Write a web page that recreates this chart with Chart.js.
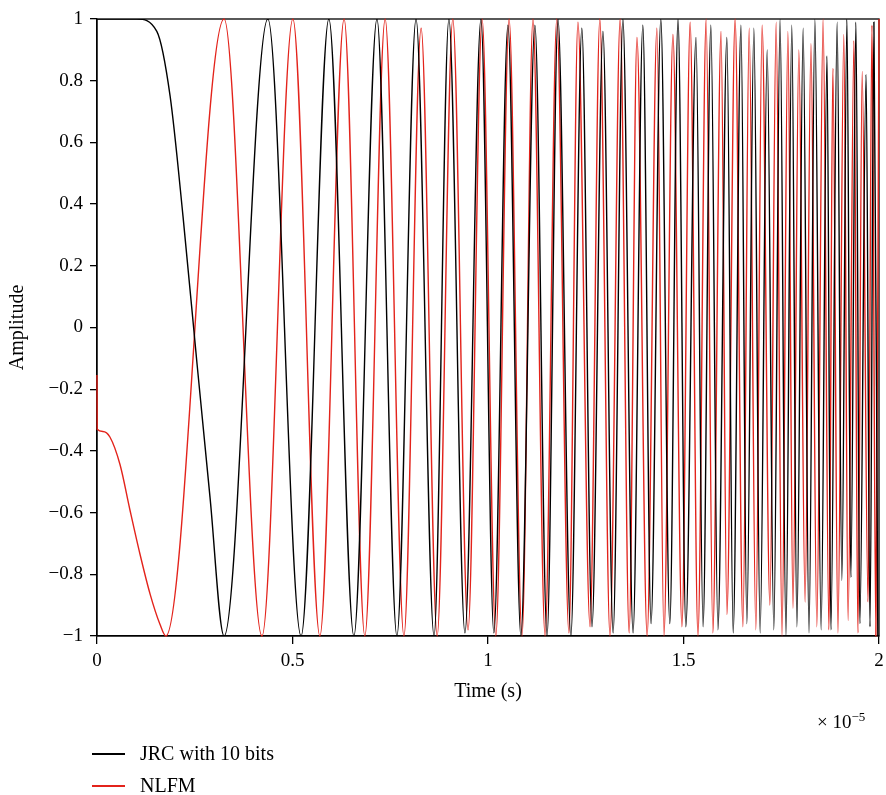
<!DOCTYPE html>
<html>
<head>
<meta charset="utf-8">
<script src="https://cdn.jsdelivr.net/npm/chart.js@4.4.1/dist/chart.umd.min.js"></script>
<style>
  body { margin: 0; background: #fff; }
  #wrap { position: relative; width: 886px; height: 795px; font-family: "Liberation Serif", "DejaVu Serif", serif; color: #000; }
  #chart { position: absolute; left: 0; top: 0; }
  .leg { position: absolute; left: 140px; font-size: 20px; line-height: 22px; }
  .legline { position: absolute; left: 92px; width: 33px; height: 1.5px; }
  #expo { position: absolute; left: 817px; top: 709px; font-size: 19px; }
  #expo sup { font-size: 13px; }
</style>
</head>
<body>
<div id="wrap">
  <canvas id="chart" width="886" height="795"></canvas>
  <div class="legline" style="top:753px;background:#000"></div>
  <div class="leg" style="top:742px">JRC with 10 bits</div>
  <div class="legline" style="top:785px;background:#e3231b"></div>
  <div class="leg" style="top:774px">NLFM</div>
  <div id="expo">× 10<sup>−5</sup></div>
</div>
<script>
// tiempos en unidades de 1e-5 s (extremos de cada oscilacion)
const jrcTime = [0, 0.102, 0.153, 0.187, 0.220, 0.256, 0.289, 0.325, 0.437, 0.522, 0.593, 0.657, 0.716, 0.767,
  0.816, 0.862, 0.900, 0.941, 0.982, 1.015, 1.051, 1.084, 1.120, 1.151, 1.179, 1.212, 1.240, 1.266, 1.294, 1.320,
  1.345, 1.371, 1.396, 1.417, 1.442, 1.465, 1.486, 1.506, 1.532, 1.550, 1.570, 1.588, 1.611, 1.627, 1.647, 1.662,
  1.680, 1.696, 1.714, 1.731, 1.747, 1.762, 1.777, 1.790, 1.806, 1.821, 1.836, 1.852, 1.867, 1.877, 1.893, 1.905,
  1.918, 1.928, 1.941, 1.951, 1.967, 1.977, 1.987, 1.997];
const jrcAmp = [1, 1, 0.96, 0.75, 0.36, -0.12, -0.55, -1, 1, -1, 1, -1, 1, -1,
  1, -1, 1, -0.99, 1, -0.99, 0.98, -1, 0.98, -1, 1, -1, 0.97, -0.97, 0.96, -0.99,
  1, -0.99, 0.98, -0.96, 1, -0.96, 1, -0.97, 0.94, -0.97, 0.98, -0.98, 0.94, -0.99, 0.98, -0.96,
  0.97, -0.99, 0.9, -0.98, 1, -1, 0.98, -0.97, 0.97, -0.99, 1, -0.98, 0.88, -0.98, 0.99, -0.82,
  1, -0.81, 0.99, -0.96, 0.82, -0.97, 0.99, -1];

const nlfmTime = [0, 0.0005, 0.015, 0.033, 0.059, 0.084, 0.110, 0.136, 0.161, 0.176, 0.325, 0.422, 0.501, 0.570,
  0.632, 0.685, 0.737, 0.785, 0.829, 0.870, 0.910, 0.949, 0.985, 1.020, 1.054, 1.087, 1.115, 1.146, 1.176, 1.207,
  1.230, 1.261, 1.286, 1.312, 1.338, 1.361, 1.381, 1.407, 1.432, 1.450, 1.473, 1.496, 1.517, 1.537, 1.558, 1.575,
  1.596, 1.611, 1.632, 1.652, 1.668, 1.685, 1.701, 1.721, 1.737, 1.752, 1.767, 1.780, 1.795, 1.811, 1.826, 1.841,
  1.857, 1.872, 1.882, 1.895, 1.910, 1.921, 1.936, 1.946, 1.957, 1.972, 1.982, 1.992, 2.0];
const nlfmAmp = [-0.154, -0.33, -0.337, -0.355, -0.445, -0.59, -0.735, -0.865, -0.962, -1, 1, -1, 1, -1,
  1, -1, 1, -1, 0.97, -1, 1, -0.98, 1, -1, 1, -1, 1, -1, 1, -0.99,
  0.99, -0.97, 1, -1, 1, -0.99, 0.94, -1, 0.97, -1, 0.95, -0.97, 0.99, -1, 1, -0.99,
  0.96, -0.93, 1, -0.97, 0.97, -0.98, 0.98, -0.9, 0.99, -1, 0.96, -0.91, 0.9, -0.89, 0.92, -0.97,
  1, -0.98, 0.84, -0.99, 0.95, -0.95, 0.93, -0.99, 0.83, -0.89, 0.98, -1, 1];

const xTickValues = [0, 0.5, 1, 1.5, 2];
const xTickLabels = ['0', '0.5', '1', '1.5', '2'];
const yTickValues = [-1, -0.8, -0.6, -0.4, -0.2, 0, 0.2, 0.4, 0.6, 0.8, 1];
const yTickLabels = ['−1', '−0.8', '−0.6', '−0.4', '−0.2', '0', '0.2', '0.4', '0.6', '0.8', '1'];

const SERIF = '"Liberation Serif", "DejaVu Serif", serif';

function puntos(ts, vs) {
  return ts.map((t, i) => ({ x: t, y: vs[i] }));
}

// marco completo alrededor del area del grafico (debajo de las curvas)
const marco = {
  id: 'marco',
  beforeDatasetsDraw(chart) {
    const { ctx, chartArea: a } = chart;
    ctx.save();
    ctx.strokeStyle = '#000';
    ctx.lineWidth = 1.3;
    ctx.strokeRect(a.left, a.top, a.right - a.left, a.bottom - a.top);
    ctx.restore();
  }
};

new Chart(document.getElementById('chart'), {
  type: 'line',
  data: {
    datasets: [{
      label: 'JRC with 10 bits',
      data: puntos(jrcTime, jrcAmp),
      borderColor: '#000000',
      borderWidth: 1.4,
      pointRadius: 0,
      cubicInterpolationMode: 'monotone'
    }, {
      label: 'NLFM',
      data: puntos(nlfmTime, nlfmAmp),
      borderColor: '#e3231b',
      borderWidth: 1.4,
      pointRadius: 0,
      clip: { left: 2, top: 1, right: 1, bottom: 1 },
      cubicInterpolationMode: 'monotone'
    }]
  },
  options: {
    responsive: false,
    animation: false,
    devicePixelRatio: 1,
    layout: { padding: { top: 19, right: 7, left: 0, bottom: 91 } },
    plugins: { legend: { display: false }, tooltip: { enabled: false } },
    scales: {
      x: {
        type: 'linear',
        min: 0,
        max: 2,
        afterFit: s => { s.height = 68; s.paddingLeft = 0; s.paddingRight = 0; },
        afterBuildTicks: s => { s.ticks = xTickValues.map(v => ({ value: v })); },
        ticks: {
          color: '#000',
          padding: 6,
          maxRotation: 0,
          font: { family: SERIF, size: 19 },
          callback: (v, i) => xTickLabels[i]
        },
        grid: { drawOnChartArea: false, color: '#000', tickLength: 8, lineWidth: 1.3 },
        border: { display: true, color: '#000', width: 1.3 },
        title: { display: true, text: 'Time (s)', color: '#000', font: { family: SERIF, size: 20 }, padding: { top: 0, bottom: 0 } }
      },
      y: {
        min: -1,
        max: 1,
        afterFit: s => { s.width = 97; s.paddingTop = 0; s.paddingBottom = 0; },
        afterBuildTicks: s => { s.ticks = yTickValues.map(v => ({ value: v })); },
        ticks: {
          color: '#000',
          padding: 7,
          font: { family: SERIF, size: 19 },
          callback: (v, i) => yTickLabels[i]
        },
        grid: { drawOnChartArea: false, color: '#000', tickLength: 7, lineWidth: 1.3 },
        border: { display: true, color: '#000', width: 1.3 },
        title: { display: true, text: 'Amplitude', color: '#000', font: { family: SERIF, size: 20 }, padding: { top: 6, bottom: 0 } }
      }
    }
  },
  plugins: [marco]
});
</script>
</body>
</html>
